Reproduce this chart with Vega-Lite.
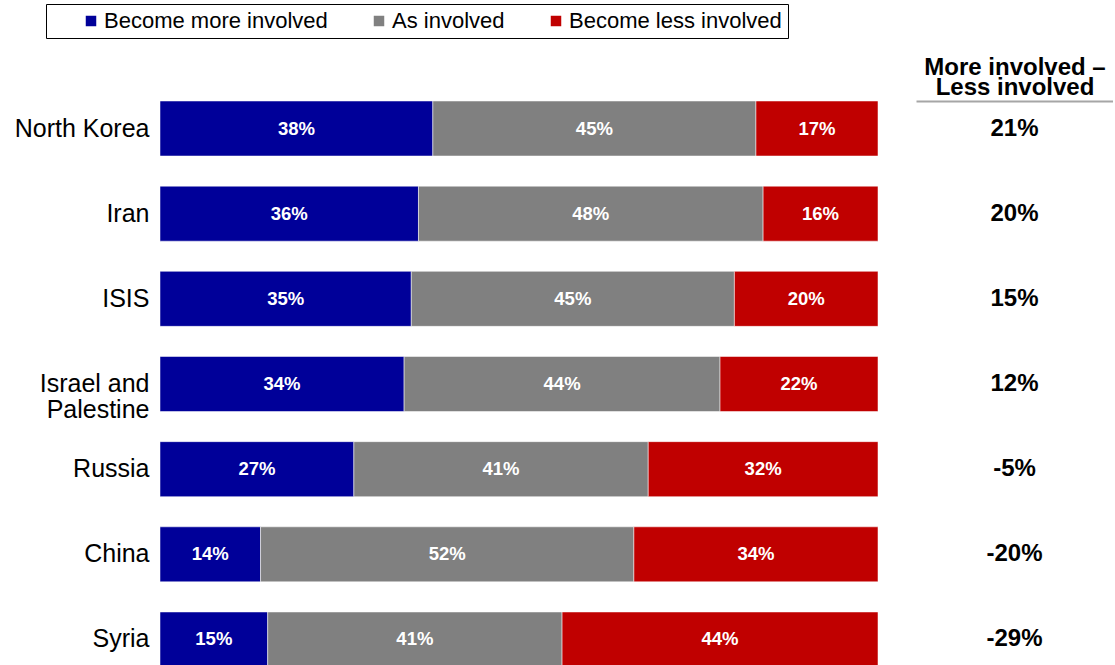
{
  "$schema": "https://vega.github.io/schema/vega-lite/v6.json",
  "padding": {"top": 3, "left": 0, "right": 0, "bottom": 0},
  "config": {
    "font": "Liberation Sans",
    "view": {"stroke": null},
    "concat": {"spacing": 37},
    "locale": {"number": {"decimal": ".", "thousands": ",", "grouping": [3], "currency": ["$", ""], "minus": "-"}}
  },
  "datasets": {
    "bars": [
      {"country": "North Korea", "response": "Become more involved", "rank": 1, "pct": 0.38},
      {"country": "North Korea", "response": "As involved", "rank": 2, "pct": 0.45},
      {"country": "North Korea", "response": "Become less involved", "rank": 3, "pct": 0.17},
      {"country": "Iran", "response": "Become more involved", "rank": 1, "pct": 0.36},
      {"country": "Iran", "response": "As involved", "rank": 2, "pct": 0.48},
      {"country": "Iran", "response": "Become less involved", "rank": 3, "pct": 0.16},
      {"country": "ISIS", "response": "Become more involved", "rank": 1, "pct": 0.35},
      {"country": "ISIS", "response": "As involved", "rank": 2, "pct": 0.45},
      {"country": "ISIS", "response": "Become less involved", "rank": 3, "pct": 0.20},
      {"country": "Israel and Palestine", "response": "Become more involved", "rank": 1, "pct": 0.34},
      {"country": "Israel and Palestine", "response": "As involved", "rank": 2, "pct": 0.44},
      {"country": "Israel and Palestine", "response": "Become less involved", "rank": 3, "pct": 0.22},
      {"country": "Russia", "response": "Become more involved", "rank": 1, "pct": 0.27},
      {"country": "Russia", "response": "As involved", "rank": 2, "pct": 0.41},
      {"country": "Russia", "response": "Become less involved", "rank": 3, "pct": 0.32},
      {"country": "China", "response": "Become more involved", "rank": 1, "pct": 0.14},
      {"country": "China", "response": "As involved", "rank": 2, "pct": 0.52},
      {"country": "China", "response": "Become less involved", "rank": 3, "pct": 0.34},
      {"country": "Syria", "response": "Become more involved", "rank": 1, "pct": 0.15},
      {"country": "Syria", "response": "As involved", "rank": 2, "pct": 0.41},
      {"country": "Syria", "response": "Become less involved", "rank": 3, "pct": 0.44}
    ],
    "diff": [
      {"country": "North Korea", "diff": 0.21},
      {"country": "Iran", "diff": 0.20},
      {"country": "ISIS", "diff": 0.15},
      {"country": "Israel and Palestine", "diff": 0.12},
      {"country": "Russia", "diff": -0.05},
      {"country": "China", "diff": -0.20},
      {"country": "Syria", "diff": -0.29}
    ]
  },
  "hconcat": [
    {
      "width": 718,
      "height": 566,
      "data": {"name": "bars"},
      "encoding": {
        "y": {
          "field": "country",
          "type": "nominal",
          "sort": ["North Korea", "Iran", "ISIS", "Israel and Palestine", "Russia", "China", "Syria"],
          "scale": {"type": "band", "paddingInner": 0.354, "paddingOuter": 0},
          "title": null,
          "axis": {
            "domain": false,
            "ticks": false,
            "labelFontSize": 25,
            "labelColor": "black",
            "labelPadding": 11,
            "labelLimit": 0,
            "labelLineHeight": 26,
            "minExtent": 160,
            "maxExtent": 160,
            "labelExpr": "datum.label == 'Israel and Palestine' ? ['Israel  and', 'Palestine'] : datum.label"
          }
        },
        "x": {
          "field": "pct",
          "type": "quantitative",
          "stack": "zero",
          "scale": {"domain": [0, 1]},
          "axis": null
        },
        "order": {"field": "rank", "type": "quantitative"}
      },
      "layer": [
        {
          "mark": {"type": "bar", "stroke": "white", "strokeWidth": 1, "strokeOpacity": 0.5},
          "encoding": {
            "color": {
              "field": "response",
              "type": "nominal",
              "scale": {
                "domain": ["Become more involved", "As involved", "Become less involved"],
                "range": ["#000099", "#808080", "#c00000"]
              },
              "legend": {
                "orient": "none",
                "legendX": -114,
                "legendY": -97,
                "direction": "horizontal",
                "title": "\u00a0",
                "titleOrient": "left",
                "titleFontSize": 4,
                "titlePadding": 28,
                "symbolType": "square",
                "symbolSize": 110,
                "symbolStrokeWidth": 0,
                "symbolOpacity": 1,
                "labelFontSize": 22,
                "labelColor": "black",
                "labelOffset": 2,
                "labelLimit": 0,
                "columnPadding": 40,
                "strokeColor": "black",
                "fillColor": "white",
                "padding": 6
              }
            }
          }
        },
        {
          "mark": {"type": "text", "color": "white", "fontWeight": "bold", "fontSize": 18.5},
          "encoding": {
            "x": {"field": "pct", "type": "quantitative", "stack": "zero", "bandPosition": 0.5},
            "text": {"field": "pct", "type": "quantitative", "format": ".0%"}
          }
        }
      ]
    },
    {
      "width": 197,
      "height": 566,
      "data": {"name": "diff"},
      "mark": {"type": "text", "fontSize": 24, "fontWeight": "bold", "color": "black"},
      "encoding": {
        "y": {
          "field": "country",
          "type": "nominal",
          "bandPosition": 0.5,
          "sort": ["North Korea", "Iran", "ISIS", "Israel and Palestine", "Russia", "China", "Syria"],
          "scale": {"type": "band", "paddingInner": 0.354, "paddingOuter": 0},
          "axis": null
        },
        "x": {
          "datum": 0,
          "type": "quantitative",
          "scale": {"domain": [-1, 1]},
          "axis": {
            "orient": "top",
            "labels": false,
            "ticks": false,
            "grid": false,
            "domainColor": "#a6a6a6",
            "domainWidth": 2,
            "title": ["More involved \u2013", "Less involved"],
            "titleFontSize": 24,
            "titleFontWeight": "bold",
            "titleColor": "black",
            "titleLineHeight": 20,
            "titlePadding": 2
          }
        },
        "text": {"field": "diff", "type": "quantitative", "format": ".0%"}
      }
    }
  ]
}
